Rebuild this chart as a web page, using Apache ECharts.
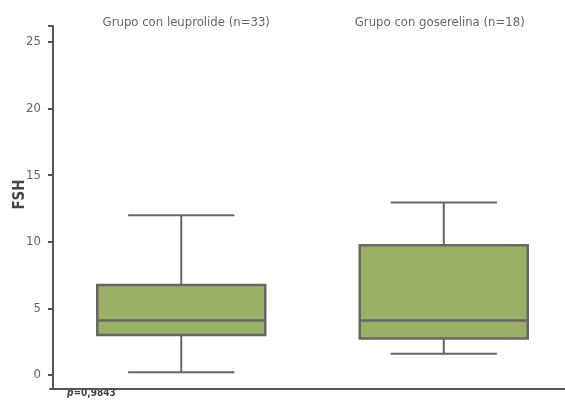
<!DOCTYPE html>
<html>
<head>
<meta charset="utf-8">
<script src="https://cdn.jsdelivr.net/npm/echarts@6/dist/echarts.min.js"></script>
<style>
  html, body { margin: 0; padding: 0; background: #fff; }
  #chart { width: 565px; height: 412px; }
</style>
</head>
<body>
<div id="chart"></div>
<script>
// grupos y valores del diagrama de cajas (FSH)
var groups = ['Grupo con leuprolide (n=33)', 'Grupo con goserelina (n=18)'];
var minVals = [0.2, 1.6];
var q1Vals = [3.0, 2.75];
var medVals = [4.1, 4.1];
var q3Vals = [6.75, 9.75];
var maxVals = [12.0, 12.95];
var yTicks = [0, 5, 10, 15, 20, 25];
var pText = '=0,9843';

var fontFam = '"DejaVu Sans Condensed", "Liberation Sans Narrow", "Roboto", sans-serif';
var gray = '#666666';
var axisGray = '#555555';

var boxData = groups.map(function (g, i) {
  return [i, minVals[i], q1Vals[i], medVals[i], q3Vals[i], maxVals[i]];
});

function renderBox(params, api) {
  var x = api.value(0);
  var band = api.size([1, 0])[0];
  var bw = band * 0.64;
  var cw = band * 0.405;
  var pMin = api.coord([x, api.value(1)]);
  var pQ1 = api.coord([x, api.value(2)]);
  var pMed = api.coord([x, api.value(3)]);
  var pQ3 = api.coord([x, api.value(4)]);
  var pMax = api.coord([x, api.value(5)]);
  var cx = pMed[0];
  var lineStyle = { stroke: gray, lineWidth: 2, fill: null };
  return {
    type: 'group',
    children: [
      { type: 'line', shape: { x1: cx, y1: pMax[1], x2: cx, y2: pQ3[1] }, style: lineStyle },
      { type: 'line', shape: { x1: cx, y1: pQ1[1], x2: cx, y2: pMin[1] }, style: lineStyle },
      { type: 'line', shape: { x1: cx - cw / 2, y1: pMax[1], x2: cx + cw / 2, y2: pMax[1] }, style: lineStyle },
      { type: 'line', shape: { x1: cx - cw / 2, y1: pMin[1], x2: cx + cw / 2, y2: pMin[1] }, style: lineStyle },
      {
        type: 'rect',
        shape: { x: cx - bw / 2, y: pQ3[1], width: bw, height: pQ1[1] - pQ3[1] },
        style: { fill: '#9ab067', stroke: gray, lineWidth: 2.5 }
      },
      { type: 'line', shape: { x1: cx - bw / 2, y1: pMed[1], x2: cx + bw / 2, y2: pMed[1] }, style: { stroke: gray, lineWidth: 2.5 } }
    ]
  };
}

var myChart = echarts.init(document.getElementById('chart'));
myChart.setOption({
  animation: false,
  textStyle: { fontFamily: fontFam },
  grid: { left: 50, right: -10, top: 26, bottom: 23, containLabel: false, outerBoundsMode: 'none' },
  xAxis: [
    {
      type: 'category',
      data: groups,
      position: 'bottom',
      axisLine: { onZero: false, lineStyle: { color: axisGray, width: 2 } },
      axisTick: { show: false },
      axisLabel: { show: false },
      splitLine: { show: false }
    },
    {
      type: 'category',
      data: groups,
      position: 'top',
      axisLine: { show: false, onZero: false },
      axisTick: { show: false },
      axisLabel: {
        color: gray,
        fontSize: 13,
        margin: -3,
        fontFamily: fontFam,
        formatter: function (v, i) {
          return (i === 0 ? '{a|' : '{b|') + v + '}';
        },
        rich: {
          a: { color: gray, fontSize: 13, fontFamily: fontFam, padding: [0, 0, 0, 10] },
          b: { color: gray, fontSize: 13, fontFamily: fontFam, padding: [0, 8, 0, 0] }
        }
      },
      splitLine: { show: false }
    }
  ],
  yAxis: {
    type: 'value',
    min: -1.05,
    max: 26.2,
    offset: -3,
    name: 'FSH',
    nameLocation: 'middle',
    nameRotate: 90,
    nameGap: 25,
    nameMoveOverlap: false,
    nameTextStyle: { color: '#444', fontSize: 15, fontWeight: 'bold', fontFamily: fontFam, padding: [0, 0, 0, 26] },
    axisLine: { show: true, onZero: false, lineStyle: { color: axisGray, width: 2 } },
    axisTick: { show: true, length: 5, lineStyle: { color: axisGray, width: 2 }, customValues: yTicks.concat([26.2]) },
    axisLabel: { color: gray, fontSize: 13, margin: 12, fontFamily: fontFam, customValues: yTicks },
    splitLine: { show: false }
  },
  graphic: [
    {
      type: 'text',
      left: 67,
      top: 388,
      style: {
        text: '{i|p}' + pText,
        fill: '#444',
        font: 'bold 10px ' + fontFam,
        rich: { i: { fontStyle: 'italic', fontWeight: 'bold', fontSize: 10, fontFamily: fontFam, fill: '#444' } }
      }
    }
  ],
  series: [
    {
      type: 'custom',
      xAxisIndex: 0,
      renderItem: renderBox,
      encode: { x: 0, y: [1, 2, 3, 4, 5] },
      data: boxData
    }
  ]
});
window.addEventListener('resize', function () {
  myChart.resize();
});
</script>
</body>
</html>
